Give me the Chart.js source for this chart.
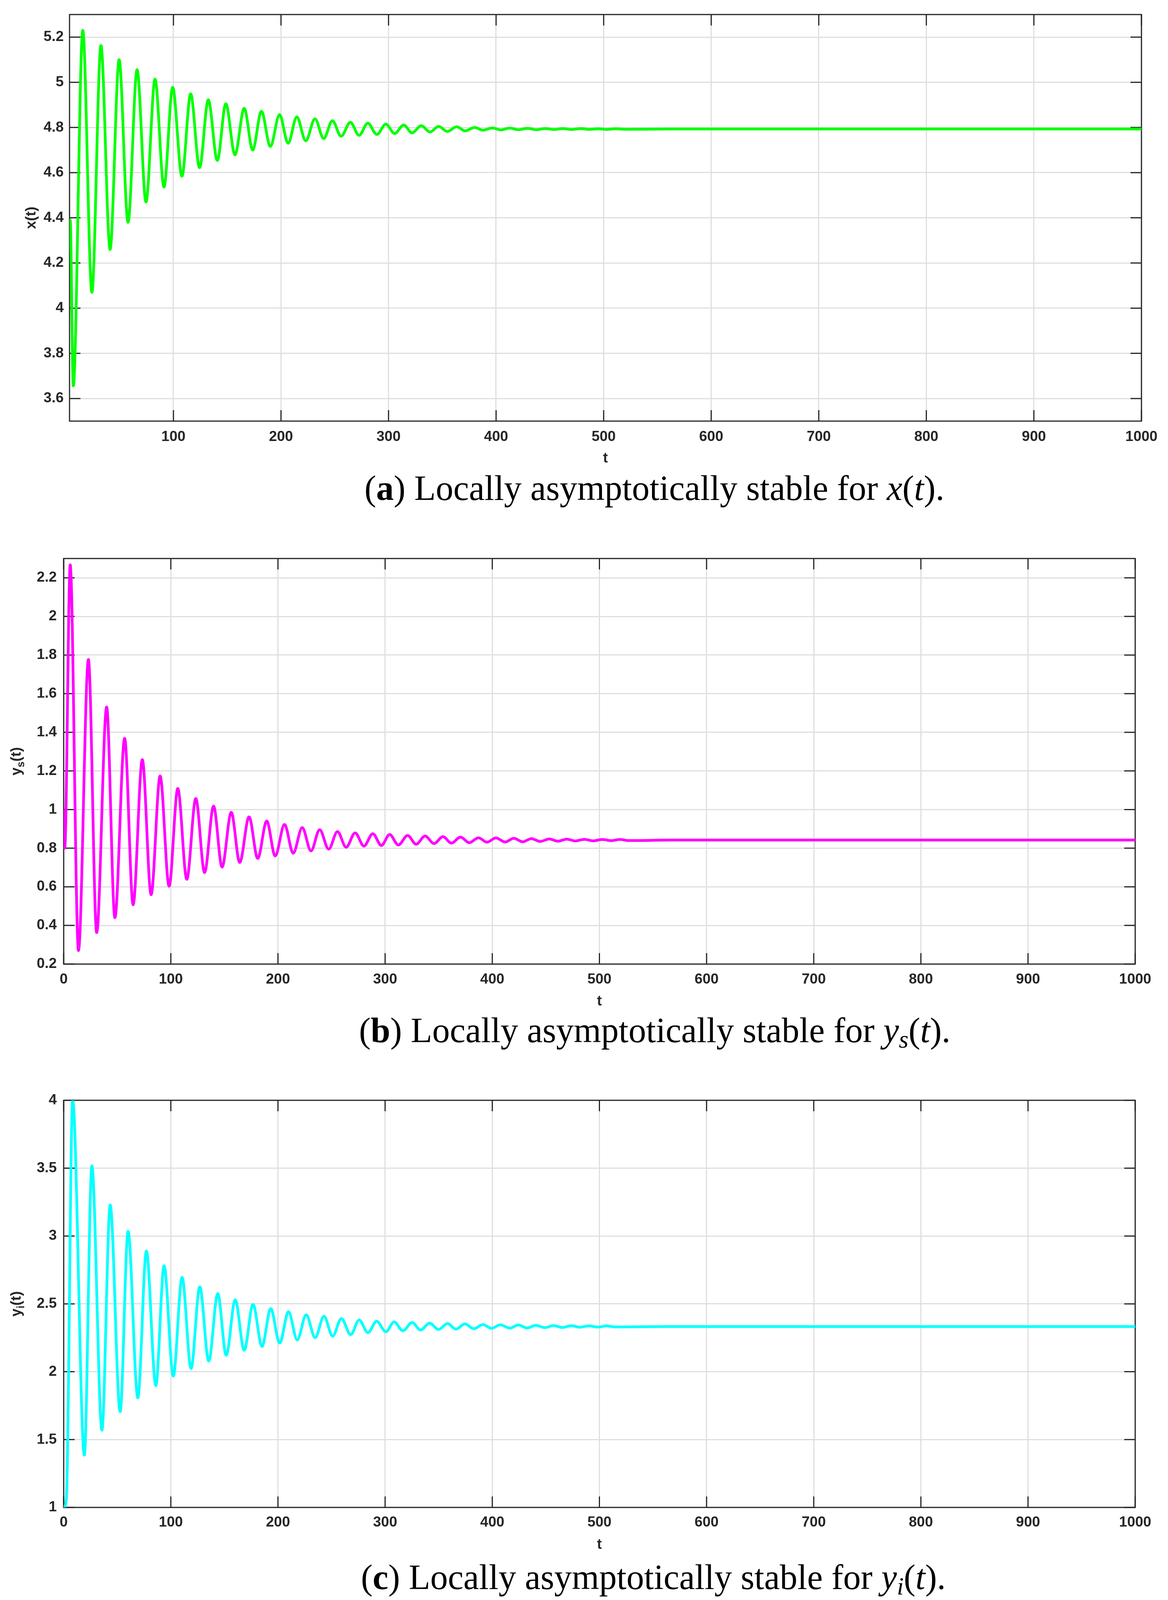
<!DOCTYPE html>
<html>
<head>
<meta charset="utf-8">
<script src="https://cdn.jsdelivr.net/npm/chart.js@4.4.0/dist/chart.umd.min.js"></script>
<style>
html,body{margin:0;padding:0;background:#fff;}
#page{position:relative;width:2990px;height:5510px;background:#fff;overflow:hidden;}
canvas{position:absolute;left:0;}
.cap{position:absolute;font-family:"Liberation Serif","Times New Roman",serif;font-size:90px;line-height:90px;color:#000;white-space:nowrap;}
.cap .s{position:relative;top:0.22em;font-size:0.7em;}
</style>
</head>
<body>
<div id="page">
<canvas id="cA"></canvas>
<canvas id="cB"></canvas>
<canvas id="cC"></canvas>
<canvas id="cD"></canvas>
<div class="cap" style="left:933px;top:1205px;">(<b>a</b>) Locally asymptotically stable for <i>x</i>(<i>t</i>).</div>
<div class="cap" style="left:919px;top:2593px;">(<b>b</b>) Locally asymptotically stable for <i>y</i><span class="s"><i>s</i></span>(<i>t</i>).</div>
<div class="cap" style="left:924px;top:3993px;">(<b>c</b>) Locally asymptotically stable for <i>y</i><span class="s"><i>i</i></span>(<i>t</i>).</div>
<div class="cap" style="left:933px;top:5390px;">(<b>d</b>) Locally asymptotically stable for <i>z</i>(<i>t</i>).</div>
</div>
<script>
// ---- data (start points, peaks, troughs, settled level) ----
const tA = [3.4, 4.0, 6.9, 15.7, 24.2, 32.6, 41.1, 49.5, 57.8, 66.2, 74.5, 82.9, 91.2, 99.3, 107.9, 116.0, 124.3, 132.4, 140.8, 148.7, 157.2, 165.8, 173.7, 181.8, 190.1, 198.7, 206.6, 214.7, 223.0, 231.6, 239.7, 247.8, 255.9, 264.5, 272.6, 280.7, 289.1, 297.5, 305.6, 314.1, 321.8, 330.4, 338.5, 346.6, 354.7, 363.3, 371.4, 380.0, 387.8, 396.4, 404.3, 412.6, 420.7, 429.3, 437.4, 445.8, 453.9, 462.0, 470.1, 478.7, 486.8, 494.9, 503.0, 511.2, 519.4, 560, 1000];
const xA = [4.31, 4.39, 3.656, 5.23, 4.07, 5.163, 4.26, 5.10, 4.38, 5.056, 4.47, 5.014, 4.536, 4.978, 4.584, 4.949, 4.622, 4.923, 4.654, 4.905, 4.679, 4.885, 4.700, 4.872, 4.716, 4.857, 4.730, 4.847, 4.741, 4.838, 4.751, 4.830, 4.761, 4.823, 4.765, 4.819, 4.769, 4.815, 4.773, 4.811, 4.776, 4.808, 4.780, 4.805, 4.782, 4.803, 4.785, 4.800, 4.788, 4.798, 4.789, 4.797, 4.790, 4.796, 4.790, 4.795, 4.791, 4.795, 4.791, 4.795, 4.7915, 4.794, 4.7915, 4.794, 4.792, 4.793, 4.793];

const tB = [0, 1.0, 6.1, 13.8, 23.1, 30.8, 40.1, 47.8, 56.9, 64.8, 73.4, 81.6, 90.0, 98.4, 106.5, 114.9, 123.3, 131.5, 139.9, 147.8, 156.4, 164.3, 173.0, 181.1, 189.5, 197.4, 206.1, 214.2, 222.6, 230.8, 238.9, 247.3, 255.5, 263.6, 272.0, 280.2, 288.5, 296.5, 304.2, 312.3, 321.0, 328.9, 337.3, 345.6, 354.0, 361.9, 370.3, 378.5, 387.1, 395.0, 403.4, 412.0, 420.1, 428.3, 436.4, 444.8, 453.2, 461.1, 469.5, 477.6, 486.0, 494.2, 502.8, 510.9, 519.1, 527.2, 570, 1000];
const ysB = [1.0, 0.80, 2.267, 0.27, 1.777, 0.363, 1.531, 0.44, 1.369, 0.507, 1.259, 0.559, 1.174, 0.603, 1.109, 0.639, 1.057, 0.674, 1.018, 0.702, 0.986, 0.726, 0.962, 0.747, 0.941, 0.760, 0.923, 0.774, 0.907, 0.786, 0.896, 0.795, 0.886, 0.805, 0.879, 0.811, 0.875, 0.814, 0.871, 0.8165, 0.866, 0.8205, 0.863, 0.824, 0.860, 0.826, 0.8575, 0.8285, 0.854, 0.831, 0.8535, 0.832, 0.8515, 0.833, 0.8495, 0.835, 0.848, 0.836, 0.847, 0.8375, 0.846, 0.838, 0.8455, 0.839, 0.845, 0.8395, 0.842, 0.842];

const tC = [0, 2.5, 8.4, 19.3, 26.3, 35.7, 43.4, 52.7, 60.1, 69.2, 77.2, 86.0, 93.7, 102.3, 110.5, 118.9, 127.0, 135.4, 143.8, 151.7, 160.1, 168.5, 176.7, 185.1, 193.2, 201.6, 209.8, 218.0, 226.3, 234.7, 242.9, 251.0, 259.2, 267.8, 275.8, 283.9, 292.1, 300.7, 308.4, 316.5, 325.2, 333.1, 341.5, 349.8, 358.2, 366.1, 374.5, 382.7, 391.3, 399.2, 407.6, 416.2, 424.3, 432.5, 440.6, 449.0, 457.4, 465.3, 473.7, 481.8, 490.2, 498.4, 507.0, 515.1, 560, 1000];
const yiC = [1.0, 1.06, 4.0, 1.385, 3.517, 1.569, 3.229, 1.706, 3.035, 1.807, 2.89, 1.898, 2.781, 1.968, 2.695, 2.024, 2.626, 2.078, 2.576, 2.121, 2.53, 2.158, 2.496, 2.186, 2.465, 2.212, 2.442, 2.234, 2.42, 2.251, 2.409, 2.262, 2.392, 2.273, 2.381, 2.288, 2.372, 2.294, 2.367, 2.302, 2.362, 2.307, 2.358, 2.311, 2.355, 2.314, 2.352, 2.317, 2.347, 2.320, 2.346, 2.321, 2.344, 2.322, 2.342, 2.325, 2.340, 2.326, 2.339, 2.328, 2.338, 2.329, 2.337, 2.330, 2.333, 2.333];

const tD = [0, 3.0, 9.5, 20.0, 27.2, 36.8, 44.2, 53.6, 60.8, 70.1, 77.8, 86.6, 94.3, 103.1, 111.1, 119.9, 127.8, 136.4, 144.4, 152.7, 160.9, 169.3, 177.4, 185.6, 193.9, 202.1, 210.5, 218.9, 226.8, 235.2, 243.5, 251.7, 260.1, 268.5, 276.4, 284.2, 292.7, 301.2, 309.1, 317.2, 325.8, 333.7, 342.1, 350.5, 358.6, 367.0, 374.9, 383.3, 391.5, 399.8, 408.2, 416.1, 424.5, 432.6, 441.0, 449.4, 457.6, 465.9, 473.8, 482.2, 490.6, 498.7, 506.9, 515.0, 560, 1000];
const zD = [1.0, 0.572, 1.884, 0.722, 1.682, 0.81, 1.56, 0.876, 1.475, 0.925, 1.413, 0.966, 1.367, 1.0, 1.33, 1.028, 1.301, 1.051, 1.277, 1.069, 1.257, 1.085, 1.24, 1.098, 1.228, 1.11, 1.216, 1.118, 1.208, 1.127, 1.203, 1.132, 1.195, 1.138, 1.189, 1.143, 1.187, 1.147, 1.184, 1.150, 1.181, 1.1525, 1.179, 1.154, 1.176, 1.1565, 1.1745, 1.158, 1.173, 1.1605, 1.1725, 1.161, 1.1715, 1.162, 1.170, 1.163, 1.170, 1.164, 1.169, 1.1645, 1.1685, 1.165, 1.1685, 1.1655, 1.167, 1.167];

// ---- tick values ----
const xTicksA = [100, 200, 300, 400, 500, 600, 700, 800, 900, 1000];
const xTicks = [0, 100, 200, 300, 400, 500, 600, 700, 800, 900, 1000];
const yTicksA = [3.6, 3.8, 4, 4.2, 4.4, 4.6, 4.8, 5, 5.2];
const yTicksB = [0.2, 0.4, 0.6, 0.8, 1, 1.2, 1.4, 1.6, 1.8, 2, 2.2];
const yTicksC = [1, 1.5, 2, 2.5, 3, 3.5, 4];
const yTicksD = [0.6, 0.8, 1, 1.2, 1.4, 1.6, 1.8];

const FONT = '"Liberation Sans", Arial, Helvetica, sans-serif';
const AXIS = '#262626';
const GRID = '#dfdfdf';
const TICK = 28;
const XH = 150;

function makeChart(s) {
  const canvasTop = s.plotT - 20;
  const H = s.plotB - canvasTop + XH;
  const cv = document.getElementById(s.id);
  cv.width = 2990; cv.height = H;
  cv.style.top = canvasTop + 'px';
  cv.style.width = '2990px'; cv.style.height = H + 'px';
  const font = {family: FONT, size: s.fontSize, weight: s.fontWeight};
  const lh = s.fontSize * 1.2;

  const axesPlugin = {
    id: 'matlabAxes',
    beforeDatasetsDraw(chart) {
      const ctx = chart.ctx, a = chart.chartArea, x = chart.scales.x, y = chart.scales.y;
      ctx.save();
      ctx.strokeStyle = AXIS; ctx.lineWidth = 3; ctx.lineCap = 'butt';
      ctx.beginPath();
      x.ticks.forEach(t => {
        const px = x.getPixelForValue(t.value);
        ctx.moveTo(px, a.bottom); ctx.lineTo(px, a.bottom - TICK);
        ctx.moveTo(px, a.top); ctx.lineTo(px, a.top + TICK);
      });
      y.ticks.forEach(t => {
        const py = y.getPixelForValue(t.value);
        ctx.moveTo(a.left, py); ctx.lineTo(a.left + TICK, py);
        ctx.moveTo(a.right, py); ctx.lineTo(a.right - TICK, py);
      });
      ctx.stroke();
      ctx.strokeRect(a.left, a.top, a.right - a.left, a.bottom - a.top);
      ctx.restore();
    },
    afterDraw(chart) {
      const ctx = chart.ctx, a = chart.chartArea;
      const cy = (a.top + a.bottom) / 2;
      ctx.save();
      ctx.translate(s.yTitleX, cy);
      ctx.rotate(-Math.PI / 2);
      ctx.fillStyle = AXIS;
      ctx.textBaseline = 'alphabetic';
      ctx.textAlign = 'left';
      const fonts = s.yTitle.map(p => s.fontWeight + ' ' + Math.round(p.sub ? s.fontSize * 0.72 : s.fontSize) + 'px ' + FONT);
      let total = 0;
      s.yTitle.forEach((p, i) => { ctx.font = fonts[i]; total += ctx.measureText(p.text).width; });
      let xx = -total / 2;
      s.yTitle.forEach((p, i) => {
        ctx.font = fonts[i];
        ctx.fillText(p.text, xx, p.sub ? s.fontSize * 0.25 : 0);
        xx += ctx.measureText(p.text).width;
      });
      ctx.restore();
    }
  };

  new Chart(cv, {
    type: 'line',
    data: {
      datasets: [{
        data: s.ts.map((t, i) => ({x: t, y: s.vs[i]})),
        borderColor: s.color,
        borderWidth: 7,
        pointRadius: 0,
        pointHoverRadius: 0,
        fill: false,
        cubicInterpolationMode: 'monotone'
      }]
    },
    options: {
      responsive: false,
      animation: false,
      devicePixelRatio: 1,
      events: [],
      layout: {padding: {top: s.plotT - canvasTop, right: 2990 - s.plotR, left: 0, bottom: 0}},
      plugins: {legend: {display: false}, tooltip: {enabled: false}, title: {display: false}},
      scales: {
        x: {
          type: 'linear', position: 'bottom', min: s.xMin, max: s.xMax,
          afterBuildTicks: sc => { sc.ticks = s.xTicks.map(v => ({value: v})); },
          afterFit: sc => { sc.height = XH; },
          grid: {color: GRID, lineWidth: 3, drawTicks: false},
          border: {display: false},
          ticks: {font: font, color: AXIS, padding: s.xPad, autoSkip: false, maxRotation: 0, callback: v => String(v)},
          title: {display: true, text: 't', font: font, color: AXIS, padding: {top: 0, bottom: XH - lh / 2 - s.tOff}}
        },
        y: {
          type: 'linear', min: s.yMin, max: s.yMax,
          afterBuildTicks: sc => { sc.ticks = s.yTicks.map(v => ({value: v})); },
          afterFit: sc => { sc.width = s.plotL; },
          grid: {color: GRID, lineWidth: 3, drawTicks: false},
          border: {display: false},
          ticks: {font: font, color: AXIS, padding: s.yPad, autoSkip: false, callback: v => String(v)}
        }
      }
    },
    plugins: [axesPlugin]
  });
}

makeChart({id: 'cA', ts: tA, vs: xA, color: '#00ff00', xTicks: xTicksA, yTicks: yTicksA,
  xMin: 3.4, xMax: 1000, yMin: 3.5, yMax: 5.3, plotL: 178, plotR: 2922, plotT: 20, plotB: 1078,
  fontSize: 37, fontWeight: 'bold', xPad: 19, yPad: 15, tOff: 96, yTitleX: 91,
  yTitle: [{text: 'x(t)'}]});

makeChart({id: 'cB', ts: tB, vs: ysB, color: '#ff00ff', xTicks: xTicks, yTicks: yTicksB,
  xMin: 0, xMax: 1000, yMin: 0.2, yMax: 2.3, plotL: 163, plotR: 2906, plotT: 1410, plotB: 2468,
  fontSize: 37, fontWeight: 'bold', xPad: 18, yPad: 17.6, tOff: 96, yTitleX: 53,
  yTitle: [{text: 'y'}, {text: 's', sub: true}, {text: '(t)'}]});

makeChart({id: 'cC', ts: tC, vs: yiC, color: '#00ffff', xTicks: xTicks, yTicks: yTicksC,
  xMin: 0, xMax: 1000, yMin: 1, yMax: 4, plotL: 163, plotR: 2906, plotT: 2797, plotB: 3859,
  fontSize: 37, fontWeight: 'bold', xPad: 17, yPad: 17.6, tOff: 96, yTitleX: 53,
  yTitle: [{text: 'y'}, {text: 'i', sub: true}, {text: '(t)'}]});

makeChart({id: 'cD', ts: tD, vs: zD, color: '#ff0000', xTicks: xTicks, yTicks: yTicksD,
  xMin: 0, xMax: 1000, yMin: 0.55, yMax: 1.9, plotL: 179, plotR: 2921, plotT: 4198, plotB: 5256,
  fontSize: 32, fontWeight: 'normal', xPad: 15, yPad: 14.6, tOff: 74, yTitleX: 100,
  yTitle: [{text: 'z(t)'}]});
</script>
</body>
</html>
